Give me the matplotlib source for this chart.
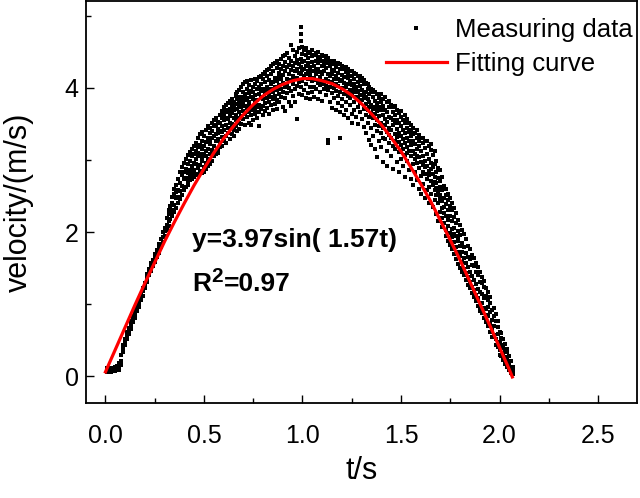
import matplotlib
matplotlib.use("Agg")
import matplotlib.pyplot as plt
from matplotlib.ticker import MultipleLocator
from matplotlib.transforms import offset_copy

plt.rcParams["font.family"] = ["Liberation Sans", "DejaVu Sans"]

RISE_T = [0.01, 0.02, 0.03, 0.04, 0.05, 0.06, 0.07, 0.08, 0.09, 0.10,
          0.11, 0.12, 0.13, 0.14, 0.15, 0.16, 0.17, 0.18, 0.19, 0.20,
          0.21, 0.22, 0.23, 0.24, 0.25, 0.26, 0.27, 0.28, 0.29, 0.30,
          0.31, 0.32, 0.33, 0.34, 0.35, 0.36, 0.37, 0.38, 0.39, 0.40,
          0.41, 0.42, 0.43, 0.44, 0.45]
RISE_V = [
    [0.08, 0.11, 0.06], [0.10, 0.07, 0.12], [0.08, 0.06, 0.11], [0.07, 0.10, 0.12],
    [0.09, 0.13, 0.07], [0.11, 0.08, 0.14], [0.12, 0.18, 0.09], [0.21, 0.29, 0.16],
    [0.34, 0.43, 0.38], [0.47, 0.52, 0.43], [0.51, 0.61, 0.57], [0.62, 0.67, 0.59],
    [0.66, 0.77, 0.71], [0.75, 0.83, 0.79], [0.81, 0.92, 0.86], [0.90, 0.97, 0.94],
    [0.96, 1.07, 1.01], [1.06, 1.13, 1.09], [1.12, 1.23, 1.18], [1.23, 1.30, 1.26],
    [1.31, 1.42, 1.36], [1.41, 1.49, 1.44], [1.46, 1.57, 1.52], [1.53, 1.61, 1.57],
    [1.58, 1.70, 1.64], [1.65, 1.75, 1.69], [1.71, 1.84, 1.78], [1.80, 1.90, 1.84],
    [1.86, 2.00, 1.93], [1.95, 2.06, 2.01],
    [2.10, 2.03, 2.19], [2.25, 2.09, 2.16, 2.31], [2.18, 2.36, 2.27],
    [2.41, 2.22, 2.30, 2.49], [2.28, 2.53, 2.38, 2.60], [2.47, 2.33, 2.66, 2.55],
    [2.59, 2.40, 2.74, 2.49], [2.68, 2.46, 2.84, 2.57], [2.52, 2.79, 2.64, 2.91],
    [2.73, 2.58, 2.96, 2.84], [2.88, 2.63, 3.02, 2.75],
    [2.70, 2.94, 2.82, 3.07, 2.66], [2.99, 2.72, 2.86, 3.11, 2.78],
    [2.81, 3.05, 2.74, 3.16, 2.92], [3.09, 2.77, 2.96, 3.20, 2.86],
]

TOP_T = [0.46, 0.47, 0.48, 0.49, 0.50, 0.51, 0.52, 0.53, 0.54, 0.55,
         0.56, 0.57, 0.58, 0.59, 0.60, 0.61, 0.62, 0.63, 0.64, 0.65,
         0.66, 0.67, 0.68, 0.69, 0.70, 0.71, 0.72, 0.73, 0.74, 0.75,
         0.76, 0.77, 0.78, 0.79, 0.80, 0.81, 0.82, 0.83, 0.84, 0.85,
         0.86, 0.87, 0.88, 0.89, 0.90, 0.91, 0.92, 0.93, 0.94, 0.95,
         0.96, 0.97, 0.98, 0.99, 1.00, 1.01, 1.02, 1.03, 1.04, 1.05,
         1.06, 1.07, 1.08, 1.09, 1.10, 1.11, 1.12, 1.13, 1.14, 1.15,
         1.16, 1.17, 1.18, 1.19, 1.20, 1.21, 1.22, 1.23, 1.24, 1.25,
         1.26, 1.27, 1.28, 1.29, 1.30, 1.31, 1.32, 1.33, 1.34, 1.35]
TOP_V = [
    [3.02, 2.81, 3.24, 2.95, 3.13], [2.89, 3.18, 3.31, 3.05, 2.79, 3.10],
    [3.21, 2.93, 3.08, 3.36, 2.85], [2.98, 3.27, 2.82, 3.15, 3.39, 3.04],
    [3.33, 3.09, 2.90, 3.19, 2.84], [3.12, 3.41, 2.96, 3.25, 3.06, 2.87],
    [3.30, 2.92, 3.47, 3.16, 3.02], [3.08, 3.37, 3.22, 2.95, 3.45, 3.28],
    [3.40, 3.14, 2.99, 3.31, 3.52], [3.20, 3.05, 3.47, 3.33, 3.11, 3.56],
    [3.36, 3.49, 3.08, 3.26, 3.58], [3.15, 3.43, 3.29, 3.53, 3.38, 3.10],
    [3.51, 3.24, 3.63, 3.40, 3.18], [3.32, 3.58, 3.20, 3.47, 3.68, 3.39],
    [3.64, 3.41, 3.27, 3.55, 3.73], [3.48, 3.33, 3.69, 3.24, 3.59, 3.76],
    [3.57, 3.79, 3.38, 3.66, 3.45], [3.71, 3.29, 3.52, 3.82, 3.61, 3.44],
    [3.36, 3.65, 3.77, 3.50, 3.85], [3.58, 3.81, 3.42, 3.69, 3.33, 3.74],
    [3.89, 3.63, 3.47, 3.78, 3.55, 3.92], [3.71, 3.40, 3.84, 3.59, 3.95],
    [3.52, 3.97, 3.76, 3.66, 3.88, 3.43, 3.80], [3.85, 3.61, 4.02, 3.73, 3.50],
    [3.68, 3.94, 3.79, 4.06, 3.57, 3.87], [3.91, 3.48, 3.75, 4.08, 3.83, 3.64],
    [3.60, 3.99, 3.86, 3.72, 4.10], [3.81, 3.52, 4.04, 3.93, 3.67, 3.77],
    [3.96, 3.70, 3.88, 4.11, 3.62, 3.49], [3.74, 4.02, 3.85, 3.56, 3.95],
    [3.90, 3.64, 4.13, 3.79, 4.06, 3.70], [3.83, 3.98, 3.58, 4.09, 3.73],
    [4.15, 3.77, 3.92, 3.66, 4.01, 3.47], [3.87, 4.05, 3.71, 3.96, 4.17],
    [3.99, 3.62, 4.12, 3.84, 3.75, 4.20], [3.79, 4.08, 3.93, 4.22, 3.68],
    [4.16, 3.86, 3.72, 4.02, 3.96, 4.25], [3.90, 4.27, 3.81, 4.11, 3.64],
    [4.05, 3.76, 4.19, 3.98, 4.30, 3.87], [3.94, 4.24, 3.69, 4.08, 3.84, 4.33],
    [4.14, 3.89, 4.35, 3.78, 4.01], [3.97, 4.28, 4.10, 3.83, 4.38, 3.71],
    [4.21, 3.92, 4.04, 4.33, 3.80, 4.15], [3.88, 4.40, 4.12, 3.99, 4.26],
    [4.18, 3.95, 4.44, 3.74, 4.07, 4.30], [4.02, 4.36, 3.86, 4.23, 4.46, 3.68],
    [4.29, 3.93, 4.13, 4.48, 4.05], [3.81, 4.20, 4.41, 4.00, 4.32, 4.09],
    [4.37, 4.11, 4.60, 3.96, 4.25, 3.75], [4.06, 4.31, 3.89, 4.52, 4.17],
    [4.24, 3.99, 4.44, 4.12, 3.80, 4.35], [4.14, 4.50, 3.57, 4.27, 4.03, 4.39],
    [4.33, 4.08, 4.55, 3.92, 4.21],
    [4.19, 4.65, 4.02, 4.40, 4.75, 4.84, 4.29],
    [4.10, 4.47, 4.25, 3.90, 4.57, 4.36], [4.38, 4.16, 4.52, 3.97, 4.27],
    [4.05, 4.31, 4.46, 4.20, 3.86, 4.55], [4.42, 4.12, 3.93, 4.34, 4.24, 4.50],
    [4.18, 4.48, 4.01, 4.29, 3.84], [4.36, 4.09, 4.52, 3.95, 4.23, 4.44],
    [4.02, 4.30, 4.14, 4.46, 3.88], [4.25, 4.49, 3.99, 4.38, 4.11, 4.19],
    [4.43, 4.07, 4.27, 3.85, 4.34, 4.50], [4.15, 3.94, 4.40, 4.22, 4.04],
    [4.31, 4.46, 3.82, 4.10, 4.37, 4.19], [3.98, 4.24, 4.44, 4.06, 4.33],
    [4.39, 4.13, 3.90, 4.28, 4.03, 4.45], [4.20, 3.28, 4.35, 3.97, 3.24, 4.09, 4.41],
    [4.01, 4.30, 3.80, 4.16, 4.38], [4.25, 3.93, 4.36, 4.08, 3.72, 4.19],
    [3.86, 4.12, 4.33, 4.00, 4.23, 4.37], [4.29, 3.96, 4.17, 3.70, 4.06],
    [4.03, 4.35, 3.89, 4.21, 3.79, 4.13], [4.26, 3.31, 4.09, 3.94, 4.33, 3.66],
    [3.84, 4.18, 4.00, 4.31, 3.75, 4.11], [4.07, 3.92, 4.27, 3.62, 4.15],
    [4.22, 3.81, 4.02, 4.29, 3.95, 3.70], [3.89, 4.14, 4.26, 3.58, 4.05, 4.20],
    [4.10, 3.76, 4.23, 3.97, 3.86], [4.17, 3.93, 3.64, 4.24, 4.04, 3.52],
    [3.81, 4.12, 3.99, 4.21, 3.70, 4.06], [4.19, 3.88, 3.60, 4.02, 3.94],
    [3.74, 4.08, 3.96, 4.17, 3.85, 3.50], [4.13, 3.66, 3.90, 4.03, 3.79, 4.16],
    [3.83, 4.09, 3.57, 3.97, 4.14], [3.92, 3.71, 4.05, 3.46, 3.86, 4.11],
    [4.07, 3.78, 3.38, 3.95, 3.63, 3.88], [3.69, 3.99, 3.84, 4.06, 3.52],
    [3.91, 3.60, 3.28, 3.80, 4.02, 3.73], [3.76, 3.94, 3.44, 3.65, 3.99, 3.21],
]

FALL_T = [1.36, 1.37, 1.38, 1.39, 1.40, 1.41, 1.42, 1.43, 1.44, 1.45,
          1.46, 1.47, 1.48, 1.49, 1.50, 1.51, 1.52, 1.53, 1.54, 1.55,
          1.56, 1.57, 1.58, 1.59, 1.60, 1.61, 1.62, 1.63, 1.64, 1.65,
          1.66, 1.67, 1.68, 1.69, 1.70, 1.71, 1.72, 1.73, 1.74, 1.75,
          1.76, 1.77, 1.78, 1.79, 1.80, 1.81, 1.82, 1.83, 1.84, 1.85,
          1.86, 1.87, 1.88, 1.89, 1.90, 1.91, 1.92, 1.93, 1.94, 1.95,
          1.96, 1.97, 1.98, 1.99, 2.00, 2.01, 2.02, 2.03, 2.04, 2.05,
          2.06, 2.07]
FALL_V = [
    [3.58, 3.87, 3.71, 3.34, 3.97], [3.82, 3.49, 3.95, 3.64, 3.15, 3.74],
    [3.40, 3.68, 3.91, 3.55, 3.79, 3.04], [3.73, 3.26, 3.86, 3.61, 3.47],
    [3.52, 3.92, 3.18, 3.69, 3.38, 3.80], [3.84, 3.44, 3.63, 2.97, 3.75, 3.31],
    [3.29, 3.57, 3.87, 3.48, 3.70], [3.66, 3.12, 3.80, 3.39, 3.53, 2.92],
    [3.45, 3.74, 3.23, 3.60, 3.82, 3.35], [3.58, 3.05, 3.41, 3.77, 3.30],
    [3.20, 3.67, 3.49, 2.88, 3.56, 3.73], [3.62, 3.36, 3.15, 3.51, 3.75, 3.27],
    [3.43, 2.97, 3.70, 3.32, 3.55], [3.11, 3.52, 3.38, 3.65, 2.83, 3.25],
    [3.47, 3.21, 3.60, 3.02, 3.34, 3.68], [3.29, 3.56, 2.92, 3.42, 3.16],
    [3.51, 3.07, 3.37, 3.62, 3.24, 2.76], [3.18, 3.45, 2.98, 3.31, 3.57, 3.10],
    [3.39, 2.86, 3.26, 3.52, 3.13], [3.05, 3.33, 3.48, 2.74, 3.21, 3.42],
    [3.27, 2.95, 3.44, 3.13, 3.36, 2.66], [3.09, 3.38, 2.83, 3.22, 3.01],
    [3.30, 2.72, 3.15, 3.41, 2.96, 3.06], [2.89, 3.20, 3.35, 2.60, 3.04, 3.27],
    [3.12, 2.78, 3.31, 2.97, 2.53], [2.93, 3.24, 2.67, 3.06, 3.30, 2.84],
    [3.17, 2.81, 2.99, 2.47, 3.26, 2.90], [2.74, 3.08, 2.92, 3.27, 2.58],
    [3.01, 2.63, 3.19, 2.85, 2.40, 2.79], [2.87, 3.14, 2.53, 2.96, 2.71, 3.22],
    [2.66, 2.91, 3.07, 2.35, 2.80], [2.95, 2.59, 2.77, 3.12, 2.44, 2.70],
    [2.52, 2.83, 2.68, 2.98, 2.25, 2.61], [2.75, 2.40, 2.89, 2.57, 2.16],
    [2.46, 2.71, 2.28, 2.62, 2.86, 2.51], [2.59, 2.20, 2.43, 2.77, 2.33, 2.07],
    [2.35, 2.64, 2.12, 2.48, 2.27], [2.52, 2.03, 2.39, 2.23, 2.60, 1.95],
    [2.17, 2.53, 2.44, 1.88, 2.30, 2.09], [2.36, 1.99, 2.22, 2.48, 1.82],
    [2.04, 2.31, 1.76, 2.15, 2.40, 1.93], [2.21, 1.86, 2.06, 1.69, 2.33, 1.98],
    [1.80, 2.12, 1.95, 2.27, 1.62], [2.01, 1.72, 2.17, 1.88, 1.56, 1.92],
    [1.67, 1.96, 1.81, 2.10, 1.50], [1.85, 1.58, 2.03, 1.73, 1.44],
    [1.49, 1.79, 1.64, 1.97, 1.40], [1.71, 1.43, 1.90, 1.57, 1.33],
    [1.52, 1.81, 1.37, 1.66, 1.26], [1.62, 1.31, 1.77, 1.45, 1.22],
    [1.39, 1.68, 1.24, 1.55, 1.16], [1.53, 1.19, 1.64, 1.33, 1.10],
    [1.28, 1.57, 1.13, 1.44, 1.04], [1.40, 1.08, 1.51, 1.21, 0.98],
    [1.17, 1.44, 0.96, 1.31, 0.91], [1.29, 1.02, 1.38, 0.88, 1.14],
    [0.95, 1.24, 0.81, 1.09, 1.32], [1.12, 0.75, 1.22, 0.93, 0.85],
    [0.83, 1.06, 0.69, 1.17, 0.96], [1.01, 0.72, 0.89, 0.61, 1.10],
    [0.66, 0.92, 0.78, 0.55], [0.83, 0.57, 0.94, 0.69], [0.51, 0.76, 0.44, 0.86],
    [0.68, 0.41, 0.59, 0.77], [0.36, 0.62, 0.48, 0.30], [0.53, 0.28, 0.44, 0.60],
    [0.39, 0.22, 0.51, 0.31], [0.26, 0.45, 0.17, 0.35], [0.33, 0.13, 0.24, 0.38],
    [0.18, 0.09, 0.28, 0.14], [0.11, 0.21, 0.05], [0.07, 0.13, 0.03],
]

# fitted curve, sampled off the red line
FIT_T = [0.00, 0.05, 0.10, 0.15, 0.20, 0.25, 0.30, 0.35, 0.40, 0.45,
         0.50, 0.55, 0.60, 0.65, 0.70, 0.75, 0.80, 0.85, 0.90, 0.95,
         1.00, 1.05, 1.10, 1.15, 1.20, 1.25, 1.30, 1.35, 1.40, 1.45,
         1.50, 1.55, 1.60, 1.65, 1.70, 1.75, 1.80, 1.85, 1.90, 1.95,
         2.00, 2.05, 2.065]
FIT_V = [0.06, 0.37, 0.68, 0.99, 1.29, 1.58, 1.87, 2.14, 2.40, 2.65,
         2.88, 3.10, 3.30, 3.47, 3.63, 3.77, 3.89, 3.98, 4.05, 4.10,
         4.13, 4.13, 4.10, 4.06, 3.99, 3.90, 3.78, 3.64, 3.49, 3.31,
         3.12, 2.90, 2.67, 2.43, 2.16, 1.89, 1.61, 1.31, 1.01, 0.71,
         0.40, 0.09, -0.01]

X_TICKS = [0.0, 0.5, 1.0, 1.5, 2.0, 2.5]
X_TICK_LABELS = ["0.0", "0.5", "1.0", "1.5", "2.0", "2.5"]
Y_TICKS = [0, 2, 4]


def flatten(times, values):
    xs, ys = [], []
    for t, vals in zip(times, values):
        xs.extend([t] * len(vals))
        ys.extend(vals)
    return xs, ys


fig = plt.figure(figsize=(6.4, 4.98), dpi=100)
ax = fig.add_axes([0.134, 0.191, 0.862, 0.806])

meas_t, meas_v = [], []
for times, values in ((RISE_T, RISE_V), (TOP_T, TOP_V), (FALL_T, FALL_V)):
    xs, ys = flatten(times, values)
    meas_t += xs
    meas_v += ys

ax.plot(meas_t, meas_v, ls="none", marker="s", ms=2.6, mew=0, color="black",
        label="Measuring data")
ax.plot(FIT_T, FIT_V, color="#ff0000", lw=2.3, label="Fitting curve")

ax.set_xlim(-0.1, 2.7)
ax.set_ylim(-0.37, 5.2)
ax.set_xticks(X_TICKS)
ax.set_xticklabels(X_TICK_LABELS)
ax.set_yticks(Y_TICKS)
ax.xaxis.set_minor_locator(MultipleLocator(0.25))
ax.yaxis.set_minor_locator(MultipleLocator(1))
ax.tick_params(which="both", direction="in", width=1.0, labelsize=18)
ax.tick_params(axis="x", pad=15)
ax.tick_params(axis="y", pad=5)
ax.tick_params(which="major", length=5.5)
ax.tick_params(which="minor", length=3.5)
for spine in ax.spines.values():
    spine.set_linewidth(1.3)

ax.set_xlabel("t/s", fontsize=22, labelpad=6)
ax.set_ylabel("velocity/(m/s)", fontsize=22, labelpad=22)

# fit annotation, R^2 built from three pieces to get the large superscript
ax.text(0.44, 1.80, "y=3.97sin( 1.57t)", fontsize=19, fontweight="bold")
ax.text(0.44, 1.18, "R", fontsize=19, fontweight="bold")
ax.text(0.44, 1.18, "2", fontsize=15, fontweight="bold",
        transform=offset_copy(ax.transData, fig=fig, x=19, y=9, units="dots"))
ax.text(0.44, 1.18, "=0.97", fontsize=19, fontweight="bold",
        transform=offset_copy(ax.transData, fig=fig, x=32, y=0, units="dots"))

ax.legend(loc="upper right", bbox_to_anchor=(1.009, 0.985), frameon=False,
          fontsize=18.5, numpoints=1, markerscale=1.3, handlelength=2.37,
          handletextpad=0.31, labelspacing=0.4, borderaxespad=0.0)

fig.savefig("out.png", dpi=100)
